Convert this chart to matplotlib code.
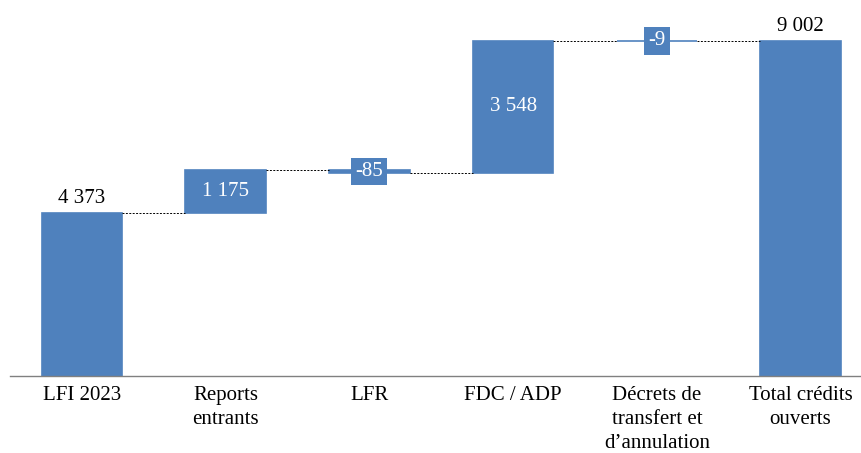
import matplotlib.pyplot as plt

categories = ["LFI 2023", "Reports\nentrants", "LFR", "FDC / ADP",
              "Décrets de\ntransfert et\nd\u2019annulation", "Total crédits\nouverts"]
steps = [4373, 1175, -85, 3548, -9]
total = 9002

BLUE = "#4F81BD"
plt.rcParams["font.family"] = ["Liberation Serif", "DejaVu Serif"]


def fmt(v):
    return f"{v:,}".replace(",", " ")


fig = plt.figure(figsize=(8.61, 4.53), dpi=100)
ax = fig.add_axes([10 / 861, 77 / 453, 851 / 861, 376 / 453])
width = 0.56

# running totals for the waterfall
bottoms, heights, levels = [], [], []
level = 0
for i, d in enumerate(steps):
    if i == 0:
        bottoms.append(0)
        heights.append(d)
    else:
        bottoms.append(min(level, level + d))
        heights.append(abs(d))
    level += d
    levels.append(level)
bottoms.append(0)
heights.append(total)

x = list(range(len(categories)))
ax.bar(x, heights, width, bottom=bottoms, color=BLUE, edgecolor=BLUE, linewidth=1.2)

# dashed connectors between bars
for i, lv in enumerate(levels):
    ax.plot([i + width / 2, i + 1 - width / 2], [lv, lv], color="black",
            linestyle=(0, (2, 1.5)), linewidth=0.7)

# value labels
fs = 15
ax.text(0, steps[0] + 150, fmt(steps[0]), ha="center", va="bottom", fontsize=fs)
ax.text(5, total + 150, fmt(total), ha="center", va="bottom", fontsize=fs)
for i in range(1, len(steps)):
    mid = bottoms[i] + heights[i] / 2
    if heights[i] > 500:
        ax.text(i, mid, fmt(steps[i]), ha="center", va="center", color="white",
                fontsize=fs)
    else:
        ax.text(i, mid, fmt(steps[i]), ha="center", va="center", color="white",
                fontsize=fs,
                bbox=dict(boxstyle="square,pad=0.2", facecolor=BLUE, edgecolor="none"))

ax.set_xlim(-0.5, 5.42)
ax.set_ylim(0, 10107)
ax.set_xticks(x)
ax.set_xticklabels(categories, fontsize=fs, linespacing=1.36)
ax.tick_params(axis="x", length=0, pad=7)
ax.set_yticks([])
for s in ["top", "right", "left"]:
    ax.spines[s].set_visible(False)
ax.spines["bottom"].set_color("#808080")
ax.spines["bottom"].set_linewidth(1)

fig.savefig("out.png", dpi=100)
